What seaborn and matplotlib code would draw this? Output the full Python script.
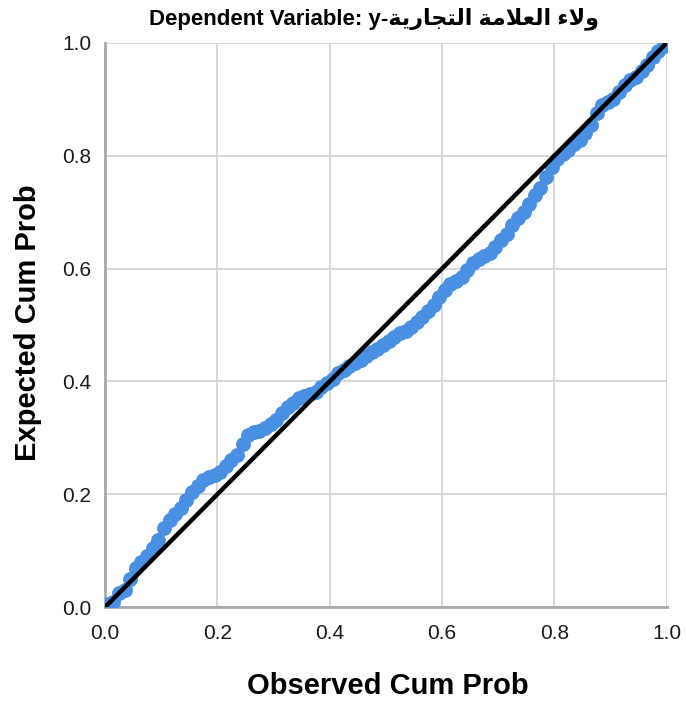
import matplotlib
matplotlib.use("Agg")
import matplotlib.pyplot as plt
import seaborn as sns
import pandas as pd

observed = [0.005, 0.015, 0.025, 0.035, 0.045, 0.055, 0.065, 0.075, 0.085, 0.095,
            0.105, 0.115, 0.125, 0.135, 0.145, 0.155, 0.165, 0.175, 0.185, 0.195,
            0.205, 0.215, 0.225, 0.235, 0.245, 0.255, 0.265, 0.275, 0.285, 0.295,
            0.305, 0.315, 0.325, 0.335, 0.345, 0.355, 0.365, 0.375, 0.385, 0.395,
            0.405, 0.415, 0.425, 0.435, 0.445, 0.455, 0.465, 0.475, 0.485, 0.495,
            0.505, 0.515, 0.525, 0.535, 0.545, 0.555, 0.565, 0.575, 0.585, 0.595,
            0.605, 0.615, 0.625, 0.635, 0.645, 0.655, 0.665, 0.675, 0.685, 0.695,
            0.705, 0.715, 0.725, 0.735, 0.745, 0.755, 0.765, 0.775, 0.785, 0.795,
            0.805, 0.815, 0.825, 0.835, 0.845, 0.855, 0.865, 0.875, 0.885, 0.895,
            0.905, 0.915, 0.925, 0.935, 0.945, 0.955, 0.965, 0.975, 0.985, 0.995]
expected = [0.005, 0.010, 0.025, 0.030, 0.050, 0.070, 0.080, 0.090, 0.105, 0.120,
            0.140, 0.155, 0.165, 0.175, 0.190, 0.205, 0.215, 0.225, 0.230, 0.235,
            0.240, 0.250, 0.260, 0.270, 0.290, 0.305, 0.310, 0.312, 0.318, 0.325,
            0.332, 0.345, 0.355, 0.362, 0.370, 0.375, 0.378, 0.382, 0.390, 0.398,
            0.405, 0.415, 0.420, 0.428, 0.432, 0.438, 0.445, 0.452, 0.458, 0.465,
            0.472, 0.478, 0.485, 0.490, 0.497, 0.505, 0.515, 0.525, 0.535, 0.550,
            0.562, 0.572, 0.578, 0.585, 0.598, 0.610, 0.617, 0.622, 0.628, 0.638,
            0.650, 0.662, 0.678, 0.690, 0.700, 0.715, 0.730, 0.742, 0.762, 0.780,
            0.795, 0.803, 0.810, 0.820, 0.828, 0.840, 0.855, 0.875, 0.890, 0.895,
            0.900, 0.912, 0.925, 0.935, 0.940, 0.950, 0.960, 0.975, 0.985, 0.995]
ref_line = [0.0, 1.0]
ticks = [0.0, 0.2, 0.4, 0.6, 0.8, 1.0]
tick_labels = ["0.0", "0.2", "0.4", "0.6", "0.8", "1.0"]

# Arabic label in visual (shaped, left-to-right) order: "ولاء العلامة التجارية"
arabic_visual = ("\uFE94\uFEF3\uFEAD\uFE8E\uFEA0\uFE98\uFEDF\uFE8D "
                 "\uFE94\uFEE3\uFEFC\uFECC\uFEDF\uFE8D "
                 "\uFE80\uFEFB\uFEED")
title = "Dependent Variable: y-" + arabic_visual

sns.set_theme(style="white")
plt.rcParams['font.family'] = ['Liberation Sans', 'DejaVu Sans']

fig = plt.figure(figsize=(6.86, 7.02), dpi=100)
ax = fig.add_axes([0.153, 0.135, 0.819, 0.804])

df = pd.DataFrame({"obs": observed, "exp": expected})
sns.scatterplot(data=df, x="obs", y="exp", ax=ax, color="#4A90E2", s=115,
                linewidth=0, zorder=3)
sns.lineplot(x=ref_line, y=ref_line, ax=ax, color="black", linewidth=3.2, zorder=4)

ax.set_xlim(0, 1)
ax.set_ylim(0, 1)
ax.set_xticks(ticks)
ax.set_yticks(ticks)
ax.set_xticklabels(tick_labels, fontsize=15, color="#1a1a1a")
ax.set_yticklabels(tick_labels, fontsize=15, color="#1a1a1a")
ax.tick_params(axis="x", length=0, pad=12)
ax.tick_params(axis="y", length=0, pad=10)
ax.grid(True, color="#d4d4d4", linewidth=1.3)
ax.set_axisbelow(True)
for s in ["top", "right"]:
    ax.spines[s].set_visible(False)
for s in ["left", "bottom"]:
    ax.spines[s].set_color("#a8a8a8")
    ax.spines[s].set_linewidth(2)

ax.set_xlabel("Observed Cum Prob", fontsize=21, fontweight="bold", color="black")
ax.set_ylabel("Expected Cum Prob", fontsize=21, fontweight="bold", color="black")
ax.xaxis.label.set_va("center")
ax.yaxis.label.set_va("center")
ax.xaxis.set_label_coords(0.504, -0.140)
ax.yaxis.set_label_coords(-0.137, 0.505)
fig.text(0.545, 0.973, title, ha="center", va="center", fontsize=16,
         fontweight="bold", color="black", family=['Liberation Sans', 'DejaVu Sans'])

fig.savefig("out.png", dpi=100)
